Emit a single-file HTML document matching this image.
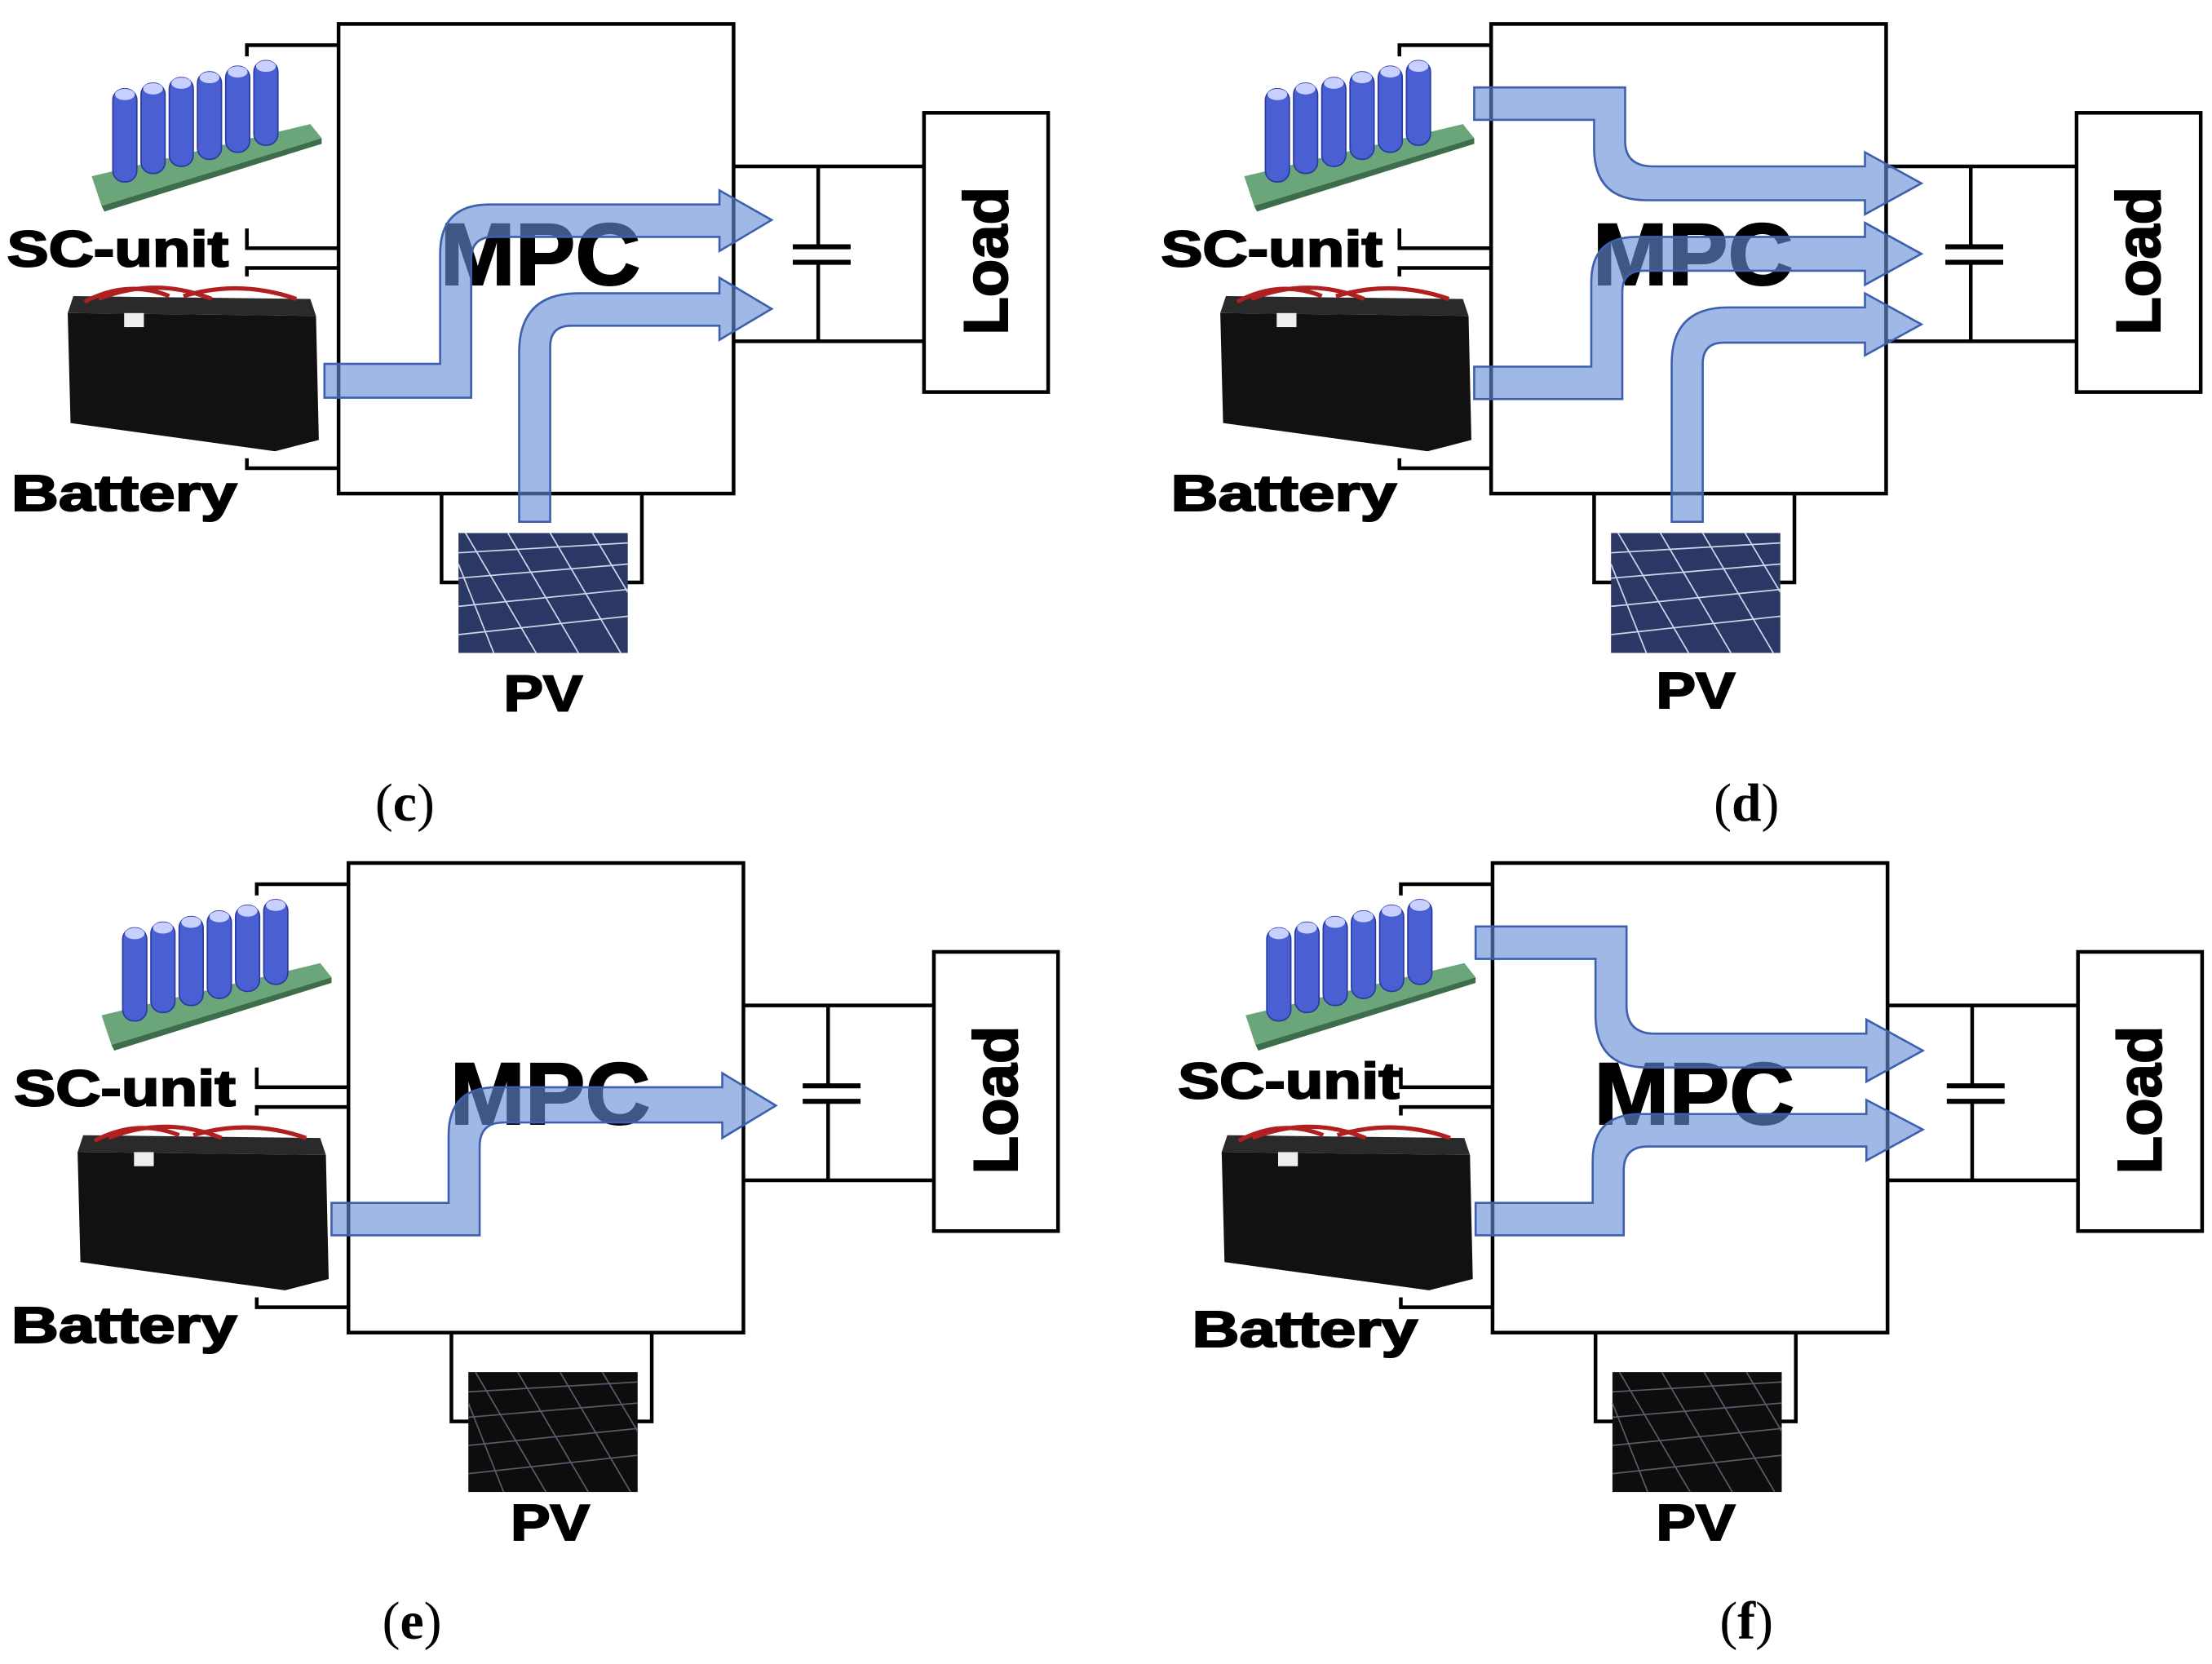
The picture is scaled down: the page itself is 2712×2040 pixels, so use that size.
<!DOCTYPE html>
<html><head><meta charset="utf-8"><style>
html,body{margin:0;padding:0;background:#fff;}
svg{display:block;}
.lbl{font-family:"Liberation Sans",sans-serif;font-weight:bold;fill:#000;stroke:#000;stroke-width:1.2;}
.cap{font-family:"Liberation Serif",serif;fill:#000;}
.arr{fill:rgba(100,140,215,0.62);stroke:#3d5fae;stroke-width:1.5;}
</style></head><body>
<svg width="2712" height="2040" viewBox="0 0 1568 1180" preserveAspectRatio="none" xmlns="http://www.w3.org/2000/svg">
<defs>
<g id="base" fill="none" stroke="#000" stroke-width="2.6">
  <rect x="240" y="17" width="280" height="333" fill="#fff"/>
  <polyline points="175,40 175,32 240,32"/>
  <polyline points="175,162 175,176 240,176"/>
  <polyline points="175,196 175,190 240,190"/>
  <polyline points="175,325 175,332 240,332"/>
  <line x1="520" y1="118" x2="655" y2="118"/>
  <line x1="520" y1="242" x2="655" y2="242"/>
  <line x1="580" y1="118" x2="580" y2="175"/>
  <line x1="580" y1="186" x2="580" y2="242"/>
  <line x1="562" y1="175" x2="603" y2="175" stroke-width="3.5"/>
  <line x1="562" y1="186" x2="603" y2="186" stroke-width="3.5"/>
  <rect x="655" y="80" width="88" height="198" fill="#fff"/>
  <polyline points="313,350 313,413 330,413"/>
  <polyline points="455,350 455,413 440,413"/>
</g>
<g id="sc">
  <polygon points="65,125 220,88 228,98 72,146" fill="#6aa67a"/>
  <polygon points="72,146 228,98 228,102 74,150" fill="#3d6d4a"/>
  <g fill="#4a5fd2" stroke="#2a3aa0" stroke-width="1">
    <rect x="80" y="63" width="17" height="66" rx="8"/>
    <rect x="100" y="59" width="17" height="64" rx="8"/>
    <rect x="120" y="55" width="17" height="63" rx="8"/>
    <rect x="140" y="51" width="17" height="62" rx="8"/>
    <rect x="160" y="47" width="17" height="61" rx="8"/>
    <rect x="180" y="43" width="17" height="60" rx="8"/>
  </g>
  <g fill="#c8d0ff">
    <ellipse cx="88.5" cy="67" rx="7" ry="4"/><ellipse cx="108.5" cy="63" rx="7" ry="4"/>
    <ellipse cx="128.5" cy="59" rx="7" ry="4"/><ellipse cx="148.5" cy="55" rx="7" ry="4"/>
    <ellipse cx="168.5" cy="51" rx="7" ry="4"/><ellipse cx="188.5" cy="47" rx="7" ry="4"/>
  </g>
</g>
<g id="bat">
  <polygon points="48,222 224,224 226,312 195,320 50,300" fill="#111"/>
  <polygon points="48,222 224,224 220,212 52,210" fill="#2a2a2a"/>
  <path d="M60,214 Q90,198 120,210 M70,212 Q110,196 150,212 M130,210 Q170,198 210,212" stroke="#b02020" stroke-width="3" fill="none"/>
  <rect x="88" y="222" width="14" height="10" fill="#eee"/>
</g>
<g id="pvb">
  <rect x="325" y="378" width="120" height="85" fill="#2b3865"/>
  <g stroke="#cfd6ea" stroke-width="1" fill="none">
    <path d="M325,392 L445,385 M325,410 L445,400 M325,430 L445,418 M325,450 L445,437"/>
    <path d="M330,378 L380,463 M360,378 L410,463 M390,378 L440,463 M420,378 L445,420 M325,400 L350,463"/>
  </g>
</g>
<g id="pvk">
  <rect x="325" y="378" width="120" height="85" fill="#0d0d0d"/>
  <g stroke="#5a5a6a" stroke-width="1" fill="none">
    <path d="M325,392 L445,385 M325,410 L445,400 M325,430 L445,418 M325,450 L445,437"/>
    <path d="M330,378 L380,463 M360,378 L410,463 M390,378 L440,463 M420,378 L445,420 M325,400 L350,463"/>
  </g>
</g>
</defs>

<!-- (c) -->
<g>
  <use href="#base"/><use href="#sc"/><use href="#bat"/><use href="#pvb"/>
  <text class="lbl" x="383" y="202" font-size="62" text-anchor="middle" textLength="142" lengthAdjust="spacingAndGlyphs">MPC</text>
  <path class="arr" d="M230,258 H312 V180 Q312,145 347,145 H510 V135 L547,156 L510,178 V168 H350 Q334,168 334,184 V282 H230 Z"/>
  <path class="arr" d="M368,370 V250 Q368,208 410,208 H510 V197 L547,219 L510,241 V231 H405 Q390,231 390,246 V370 Z"/>
  <text class="lbl" x="5" y="189" font-size="36" textLength="157" lengthAdjust="spacingAndGlyphs">SC-unit</text>
  <text class="lbl" x="8" y="362" font-size="36" textLength="160" lengthAdjust="spacingAndGlyphs">Battery</text>
  <text class="lbl" x="385" y="504" font-size="36" text-anchor="middle" textLength="56" lengthAdjust="spacingAndGlyphs">PV</text>
  <text class="lbl" font-size="44" transform="translate(714,185) rotate(-90)" text-anchor="middle">Load</text>
  <text class="cap" x="287" y="582" font-size="38" text-anchor="middle">(<tspan font-weight="bold">c</tspan>)</text>
</g>

<!-- (d) -->
<g transform="translate(817,0)">
  <use href="#base"/><use href="#sc"/><use href="#bat"/><use href="#pvb"/>
  <text class="lbl" x="383" y="202" font-size="62" text-anchor="middle" textLength="142" lengthAdjust="spacingAndGlyphs">MPC</text>
  <path class="arr" d="M228,62 H335 V100 Q335,118 355,118 H505 V108 L545,130 L505,152 V142 H350 Q313,142 313,105 V85 H228 Z"/>
  <path class="arr" d="M228,260 H311 V200 Q311,168 343,168 H505 V158 L545,180 L505,202 V192 H348 Q333,192 333,207 V283 H228 Z"/>
  <path class="arr" d="M368,370 V258 Q368,218 408,218 H505 V208 L545,230 L505,252 V243 H405 Q390,243 390,258 V370 Z"/>
  <text class="lbl" x="6" y="189" font-size="36" textLength="157" lengthAdjust="spacingAndGlyphs">SC-unit</text>
  <text class="lbl" x="13" y="362" font-size="36" textLength="160" lengthAdjust="spacingAndGlyphs">Battery</text>
  <text class="lbl" x="385" y="502" font-size="36" text-anchor="middle" textLength="56" lengthAdjust="spacingAndGlyphs">PV</text>
  <text class="lbl" font-size="44" transform="translate(714,185) rotate(-90)" text-anchor="middle">Load</text>
  <text class="cap" x="421" y="582" font-size="38" text-anchor="middle">(<tspan font-weight="bold">d</tspan>)</text>
</g>

<!-- (e) -->
<g transform="translate(7,595)">
  <use href="#base"/><use href="#sc"/><use href="#bat"/><use href="#pvk"/>
  <text class="lbl" x="383" y="202" font-size="62" text-anchor="middle" textLength="142" lengthAdjust="spacingAndGlyphs">MPC</text>
  <path class="arr" d="M228,258 H311 V210 Q311,176 345,176 H505 V166 L543,189 L505,212 V201 H350 Q333,201 333,218 V281 H228 Z"/>
  <text class="lbl" x="3" y="189" font-size="36" textLength="157" lengthAdjust="spacingAndGlyphs">SC-unit</text>
  <text class="lbl" x="1" y="357" font-size="36" textLength="160" lengthAdjust="spacingAndGlyphs">Battery</text>
  <text class="lbl" x="383" y="497" font-size="36" text-anchor="middle" textLength="56" lengthAdjust="spacingAndGlyphs">PV</text>
  <text class="lbl" font-size="44" transform="translate(714,185) rotate(-90)" text-anchor="middle">Load</text>
  <text class="cap" x="285" y="567" font-size="38" text-anchor="middle">(<tspan font-weight="bold">e</tspan>)</text>
</g>

<!-- (f) -->
<g transform="translate(818,595)">
  <use href="#base"/><use href="#sc"/><use href="#bat"/><use href="#pvk"/>
  <text class="lbl" x="383" y="202" font-size="62" text-anchor="middle" textLength="142" lengthAdjust="spacingAndGlyphs">MPC</text>
  <path class="arr" d="M228,62 H335 V118 Q335,138 355,138 H505 V128 L545,150 L505,172 V162 H350 Q313,162 313,125 V85 H228 Z"/>
  <path class="arr" d="M228,258 H311 V228 Q311,195 345,195 H505 V185 L545,206 L505,228 V218 H350 Q333,218 333,235 V281 H228 Z"/>
  <text class="lbl" x="17" y="184" font-size="36" textLength="157" lengthAdjust="spacingAndGlyphs">SC-unit</text>
  <text class="lbl" x="27" y="360" font-size="36" textLength="160" lengthAdjust="spacingAndGlyphs">Battery</text>
  <text class="lbl" x="384" y="497" font-size="36" text-anchor="middle" textLength="56" lengthAdjust="spacingAndGlyphs">PV</text>
  <text class="lbl" font-size="44" transform="translate(714,185) rotate(-90)" text-anchor="middle">Load</text>
  <text class="cap" x="420" y="567" font-size="38" text-anchor="middle">(<tspan font-weight="bold">f</tspan>)</text>
</g>
</svg>
</body></html>
